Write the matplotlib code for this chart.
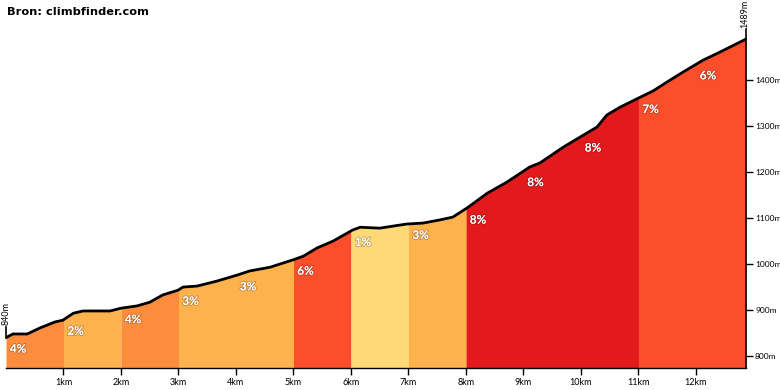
import numpy as np
import matplotlib
matplotlib.use("Agg")
import matplotlib.pyplot as plt
import matplotlib.patheffects as pe

# ---- data ----
dist_km = [0.00, 0.12, 0.37, 0.59, 0.85, 0.99, 1.17, 1.34, 1.81, 2.00, 2.28, 2.50,
           2.73, 2.99, 3.08, 3.32, 3.67, 4.02, 4.24, 4.59, 4.99, 5.17, 5.41, 5.69,
           6.03, 6.16, 6.50, 6.97, 7.25, 7.55, 7.77, 8.02, 8.37, 8.71, 9.11, 9.29,
           9.69, 10.28, 10.45, 10.68, 10.97, 11.25, 11.50, 11.77, 12.12, 12.42, 12.87]
elev_m = [840, 848, 848, 861, 874, 878, 893, 898, 898, 904, 909, 917,
          933, 943, 950, 952, 963, 976, 985, 993, 1009, 1017, 1035, 1050,
          1074, 1080, 1078, 1087, 1089, 1096, 1102, 1122, 1154, 1178, 1211, 1220,
          1254, 1298, 1324, 1341, 1359, 1376, 1396, 1417, 1443, 1461, 1489]
seg_start_km = [0, 1, 2, 3, 4, 5, 6, 7, 8, 9, 10, 11, 12]
seg_grade = [4, 2, 4, 3, 3, 6, 1, 3, 8, 8, 8, 7, 6]
fill_start_km = [0, 1, 2, 3, 5, 6, 7, 8, 11]
fill_end_km = [1, 2, 3, 5, 6, 7, 8, 11, 12.87]
fill_colors = ["#FD8D3C", "#FEB24C", "#FD8D3C", "#FEB24C", "#FC4E2A",
               "#FED976", "#FEB24C", "#E31A1C", "#FC4E2A"]
xtick_km = [1, 2, 3, 4, 5, 6, 7, 8, 9, 10, 11, 12]
xtick_labels = [f"{k}km" for k in xtick_km]
ytick_m = [800, 900, 1000, 1100, 1200, 1300, 1400]
ytick_labels = [f"{v}m" for v in ytick_m]
start_label = "840m"
end_label = "1489m"
title = "Bron: climbfinder.com"

dist = np.array(dist_km)
elev = np.array(elev_m)
total = dist[-1]
ymin, ymax = 774, 1574

fig = plt.figure(figsize=(7.8, 3.9), dpi=100)
ax = fig.add_axes([6/780, 22/390, 740/780, 368/390])
ax.set_xlim(0, total)
ax.set_ylim(ymin, ymax)

for a, b, c in zip(fill_start_km, fill_end_km, fill_colors):
    xs = np.concatenate([[a], dist[(dist > a) & (dist < b)], [b]])
    ys = np.interp(xs, dist, elev)
    ax.fill_between(xs, ymin, ys, color=c, linewidth=0, zorder=1)

ax.plot(dist, elev, color="black", lw=2.0, solid_capstyle="round",
        solid_joinstyle="round", zorder=3)

# gradient labels
for s, g in zip(seg_start_km, seg_grade):
    e = np.interp(s, dist, elev)
    ax.text(s + 0.21, e - 25, f"{g}%", color="white", fontsize=8.5,
            fontweight="bold", family="Lato", ha="center", va="center", zorder=4,
            path_effects=[pe.withStroke(linewidth=1.2, foreground=(0, 0, 0, 0.25))])

# spines & ticks
for sp in ["left", "top"]:
    ax.spines[sp].set_visible(False)
ax.spines["bottom"].set_linewidth(1.0)
ax.spines["right"].set_linewidth(1.2)
ax.spines["right"].set_bounds(ymin, elev[-1])
ax.set_xticks(xtick_km)
ax.set_xticklabels(xtick_labels)
ax.yaxis.tick_right()
ax.set_yticks(ytick_m)
ax.set_yticklabels(ytick_labels)
ax.tick_params(axis="x", direction="out", length=5, width=1.0,
               labelsize=6.5, pad=2, colors="black")
ax.tick_params(axis="y", direction="out", length=5, width=1.0,
               labelsize=6.0, pad=1.5, colors="black")
for lab in ax.get_xticklabels() + ax.get_yticklabels():
    lab.set_family("Lato")

# start / end markers
ax.plot([0, 0], [elev[0], elev[0] + 24], color="black", lw=1.2,
        clip_on=False, zorder=5)
ax.text(0, elev[0] + 27, start_label, rotation=90, fontsize=6.5, family="Lato",
        ha="center", va="bottom", clip_on=False)
ax.plot([total, total], [elev[-1], elev[-1] + 22], color="black", lw=1.2,
        clip_on=False, zorder=5)
ax.text(total - 0.03, elev[-1] + 25, end_label, rotation=90, fontsize=6.5,
        family="Lato", ha="center", va="bottom", clip_on=False)

fig.text(7/780, 1 - 12/390, title, fontsize=8.2, fontweight="bold",
         family="DejaVu Sans", ha="left", va="center")

fig.savefig("out.png", dpi=100)
